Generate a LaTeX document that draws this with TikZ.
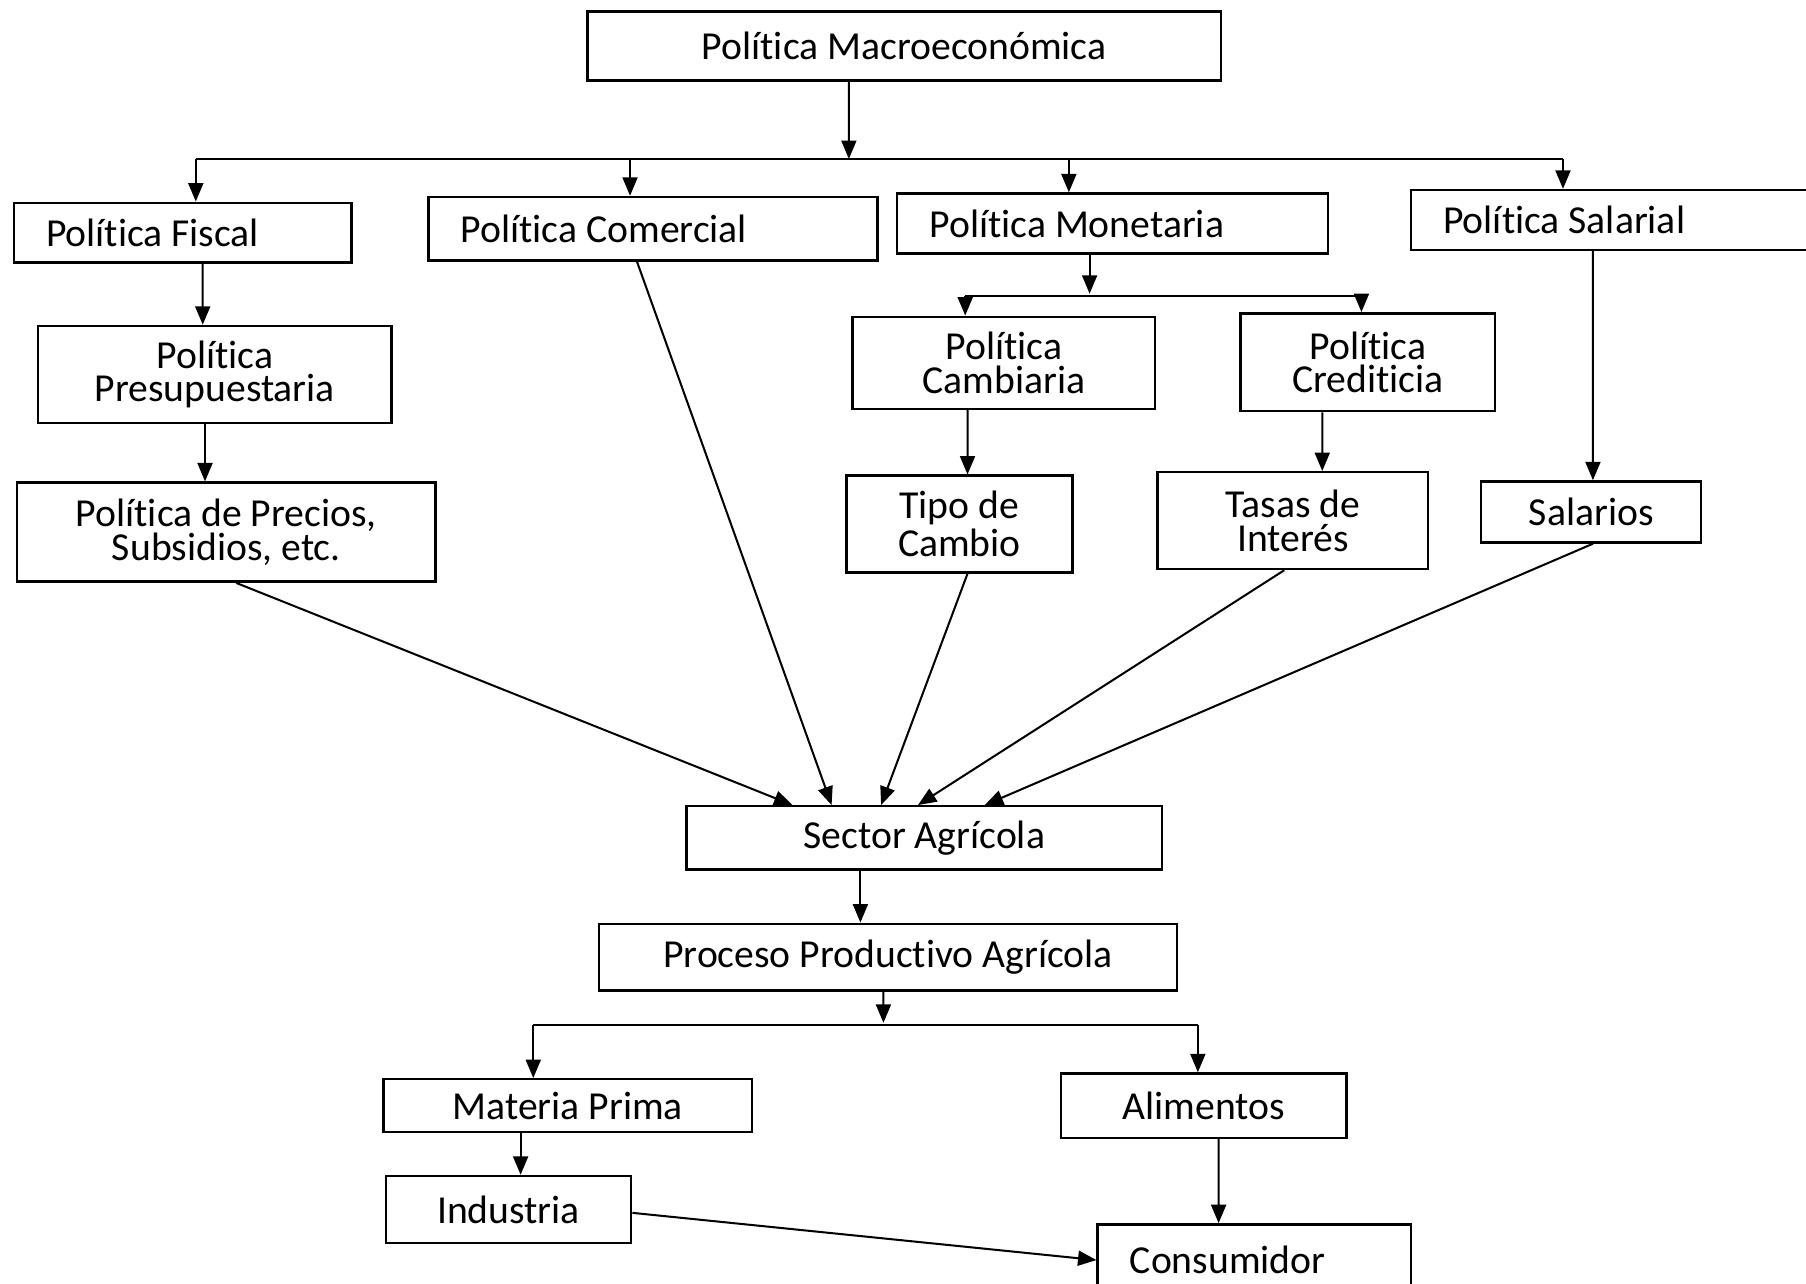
\documentclass[tikz,border=0pt]{standalone}
\usepackage{fontspec}
\setmainfont{Carlito}[Ligatures=NoCommon]
\usetikzlibrary{arrows.meta}
\begin{document}
\begin{tikzpicture}[
  box/.style={draw, line width=0.6pt, inner sep=0pt, align=center, font=\fontsize{9.8}{8.3}\selectfont},
  leftbox/.style={box, align=flush left, inner xsep=0.28cm},
  arr/.style={line width=0.5pt, -{Triangle[length=1.6mm,width=1.3mm]}},
  link/.style={line width=0.5pt}
]
% Set the page size
\useasboundingbox (0,0) rectangle (15.68,-11.14);

% Top level
\node[box, minimum width=5.50cm, minimum height=0.60cm] (macro) at (7.85,-0.40) {Política Macroeconómica};

% The four policies
\node[leftbox, minimum width=2.93cm, minimum height=0.52cm, text width=2.37cm] (fiscal) at (1.585,-2.02) {Política Fiscal};
\node[leftbox, minimum width=3.90cm, minimum height=0.55cm, text width=3.34cm] (comercial) at (5.67,-1.985) {Política Comercial};
\node[leftbox, minimum width=3.74cm, minimum height=0.52cm, text width=3.18cm] (monetaria) at (9.66,-1.94) {Política Monetaria};
\node[leftbox, minimum width=3.65cm, minimum height=0.52cm, text width=3.09cm] (salarial) at (14.075,-1.91) {Política Salarial};

% Under the fiscal policy
\node[box, minimum width=3.07cm, minimum height=0.84cm] (presup) at (1.865,-3.25) {Política\\Presupuestaria};
\node[box, minimum width=3.63cm, minimum height=0.86cm] (precios) at (1.965,-4.62) {Política de Precios,\\Subsidios, etc.};

% Under the monetary policy
\node[box, minimum width=2.63cm, minimum height=0.80cm] (cambiaria) at (8.715,-3.15) {Política\\Cambiaria};
\node[box, minimum width=2.21cm, minimum height=0.85cm] (crediticia) at (11.875,-3.145) {Política\\Crediticia};
\node[box, minimum width=1.96cm, minimum height=0.84cm] (tipo) at (8.33,-4.55) {Tipo de\\Cambio};
\node[box, minimum width=2.35cm, minimum height=0.84cm] (tasas) at (11.225,-4.52) {Tasas de\\Interés};
\node[box, minimum width=1.91cm, minimum height=0.53cm] (salarios) at (13.815,-4.445) {Salarios};

% Agricultural sector and below
\node[box, minimum width=4.13cm, minimum height=0.55cm] (sector) at (8.025,-7.275) {Sector Agrícola};
\node[box, minimum width=5.02cm, minimum height=0.58cm] (proceso) at (7.71,-8.31) {Proceso Productivo Agrícola};
\node[box, minimum width=3.20cm, minimum height=0.46cm] (materia) at (4.93,-9.60) {Materia Prima};
\node[box, minimum width=2.48cm, minimum height=0.56cm] (alimentos) at (10.45,-9.60) {Alimentos};
\node[box, minimum width=2.13cm, minimum height=0.58cm] (industria) at (4.415,-10.50) {Industria};
\node[leftbox, minimum width=2.72cm, minimum height=0.62cm, text width=2.16cm] (consumidor) at (10.89,-10.94) {Consumidor};

% Branch under the top box
\coordinate (br) at (7.37,-1.38);
\coordinate (b1) at (1.70,-1.38);
\coordinate (b2) at (5.47,-1.38);
\coordinate (b3) at (9.28,-1.38);
\coordinate (b4) at (13.57,-1.38);
\draw[arr] ([xshift=-0.48cm]macro.south) -- (br);
\draw[link] (b1) -- (b4);
\draw[arr] (b1) -- (b1 |- fiscal.north);
\draw[arr] (b2) -- (b2 |- comercial.north);
\draw[arr] (b3) -- (b3 |- monetaria.north);
\draw[arr] (b4) -- (b4 |- salarial.north);

% Fiscal chain
\draw[arr] ([xshift=0.175cm]fiscal.south) -- ([xshift=-0.105cm]presup.north);
\draw[arr] ([xshift=-0.085cm]presup.south) -- ([xshift=-0.185cm]precios.north);

% Branch under the monetary policy
\coordinate (bm) at (9.46,-2.55);
\coordinate (bm1) at (8.38,-2.57);
\coordinate (bm2) at (11.82,-2.57);
\draw[arr] ([xshift=-0.20cm]monetaria.south) -- (bm);
\draw[link] (bm1) -- (bm2);
\draw[arr] (bm1) -- (bm1 |- cambiaria.north);
\draw[arr] (bm2) -- (bm2 |- crediticia.north);
\draw[arr] ([xshift=-0.315cm]cambiaria.south) -- ([xshift=0.07cm]tipo.north);
\draw[arr] ([xshift=-0.395cm]crediticia.south) -- ([xshift=0.255cm]tasas.north);
\draw[arr] ([xshift=-0.245cm]salarial.south) -- ([xshift=0.015cm]salarios.north);

% Everything goes into the agricultural sector
\draw[arr] ([xshift=0.085cm]precios.south) -- ([xshift=-1.145cm]sector.north);
\draw[arr] ([xshift=-0.14cm]comercial.south) -- ([xshift=-0.805cm]sector.north);
\draw[arr] ([xshift=0.07cm]tipo.south) -- ([xshift=-0.375cm]sector.north);
\draw[arr] ([xshift=-0.075cm]tasas.south) -- ([xshift=-0.055cm]sector.north);
\draw[arr] ([xshift=0.015cm]salarios.south) -- ([xshift=0.525cm]sector.north);

% Lower part
\draw[arr] ([xshift=-0.555cm]sector.south) -- ([xshift=-0.24cm]proceso.north);
\coordinate (bp) at (7.67,-8.88);
\coordinate (bp1) at (4.63,-8.90);
\coordinate (bp2) at (10.40,-8.90);
\draw[arr] ([xshift=-0.04cm]proceso.south) -- (bp);
\draw[link] (bp1) -- (bp2);
\draw[arr] (bp1) -- (bp1 |- materia.north);
\draw[arr] (bp2) -- (bp2 |- alimentos.north);
\draw[arr] ([xshift=-0.41cm]materia.south) -- ([xshift=0.105cm]industria.north);
\draw[arr] ([xshift=0.13cm]alimentos.south) -- ([xshift=-0.31cm]consumidor.north);
\draw[arr] ([yshift=-0.03cm]industria.east) -- (consumidor.west);
\end{tikzpicture}
\end{document}
